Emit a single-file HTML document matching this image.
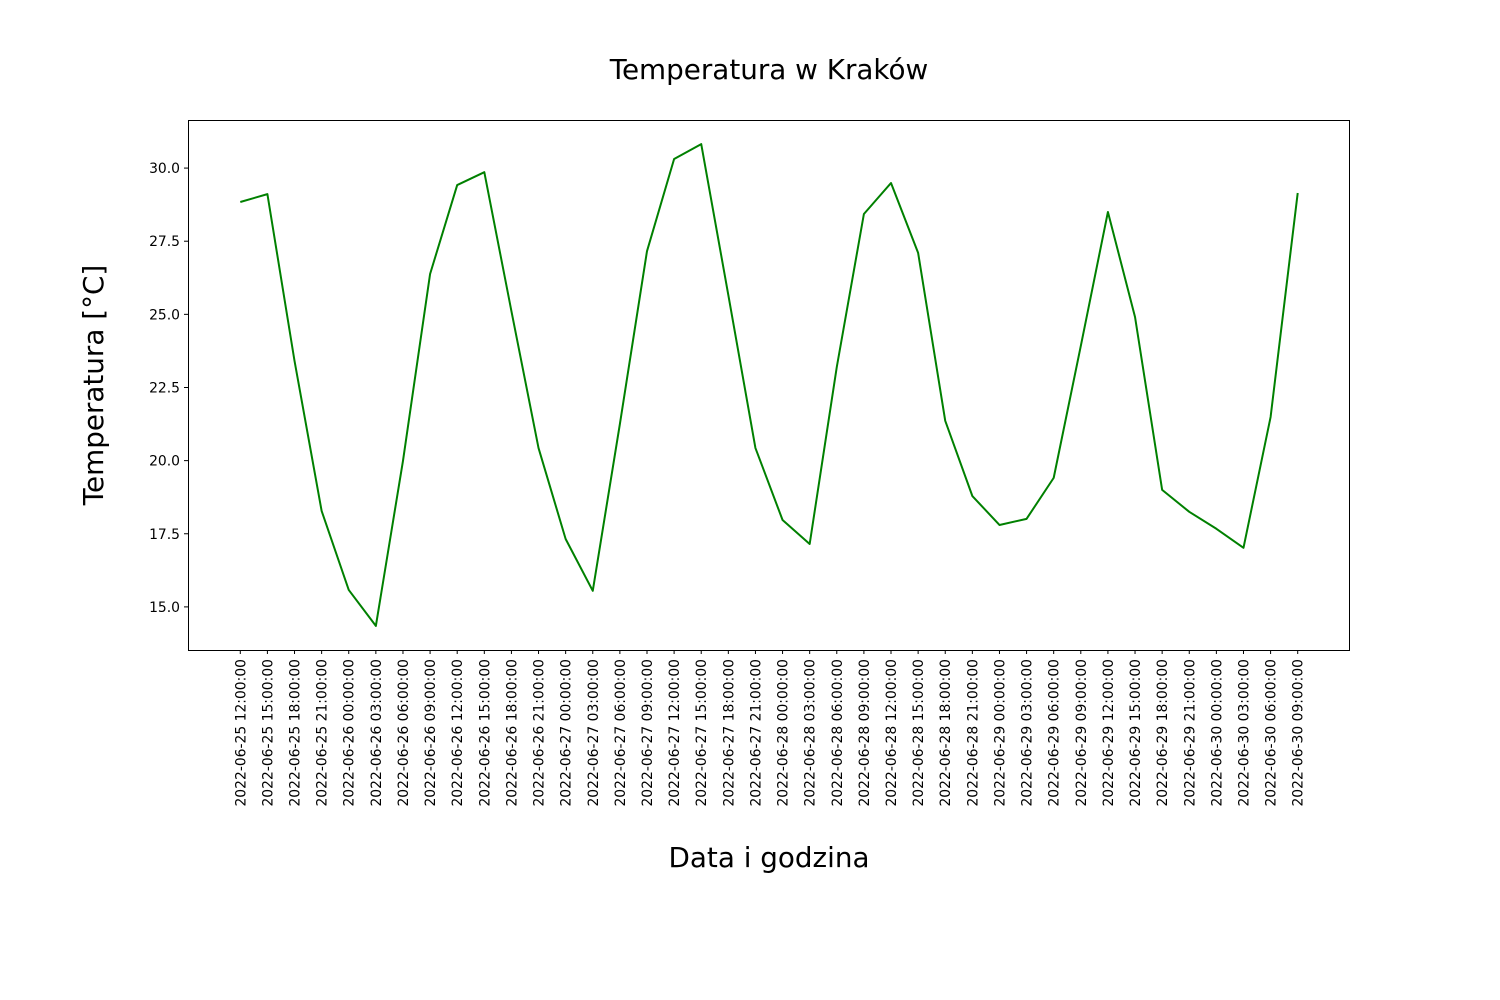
<!DOCTYPE html>
<html><head><meta charset="utf-8"><style>body{margin:0;background:#fff}svg{display:block}</style></head>
<body>
<svg id="chart" width="1500" height="1000" xmlns="http://www.w3.org/2000/svg" font-family="'DejaVu Sans', 'Liberation Sans', sans-serif">
<rect width="1500" height="1000" fill="#fff"/>
<text x="769" y="79" font-size="27.8" text-anchor="middle">Temperatura w Kraków</text>
<text x="769" y="867" font-size="27.8" text-anchor="middle">Data i godzina</text>
<text transform="translate(103,385) rotate(-90)" font-size="27.8" text-anchor="middle">Temperatura [°C]</text>
<g id="plot"></g>
<rect x="188.5" y="120.5" width="1161" height="530" fill="none" stroke="#000" stroke-width="1"/>
</svg>
<script>
const categories = ["2022-06-25 12:00:00","2022-06-25 15:00:00","2022-06-25 18:00:00","2022-06-25 21:00:00","2022-06-26 00:00:00","2022-06-26 03:00:00","2022-06-26 06:00:00","2022-06-26 09:00:00","2022-06-26 12:00:00","2022-06-26 15:00:00","2022-06-26 18:00:00","2022-06-26 21:00:00","2022-06-27 00:00:00","2022-06-27 03:00:00","2022-06-27 06:00:00","2022-06-27 09:00:00","2022-06-27 12:00:00","2022-06-27 15:00:00","2022-06-27 18:00:00","2022-06-27 21:00:00","2022-06-28 00:00:00","2022-06-28 03:00:00","2022-06-28 06:00:00","2022-06-28 09:00:00","2022-06-28 12:00:00","2022-06-28 15:00:00","2022-06-28 18:00:00","2022-06-28 21:00:00","2022-06-29 00:00:00","2022-06-29 03:00:00","2022-06-29 06:00:00","2022-06-29 09:00:00","2022-06-29 12:00:00","2022-06-29 15:00:00","2022-06-29 18:00:00","2022-06-29 21:00:00","2022-06-30 00:00:00","2022-06-30 03:00:00","2022-06-30 06:00:00","2022-06-30 09:00:00"];
const temperatures = [28.84,29.11,23.41,18.28,15.58,14.35,19.99,26.38,29.42,29.86,25.11,20.43,17.32,15.55,21.25,27.16,30.31,30.82,25.66,20.43,17.97,17.15,23.20,28.43,29.49,27.10,21.36,18.79,17.80,18.01,19.41,23.92,28.50,24.91,19.00,18.25,17.67,17.02,21.49,29.15];
const yTicks = [15.0,17.5,20.0,22.5,25.0,27.5,30.0];
const yTickLabels = ["15.0","17.5","20.0","22.5","25.0","27.5","30.0"];

const NS="http://www.w3.org/2000/svg";
const L=188,R=1350,T=120,B=650;
const n=categories.length;
const xStart=L+(R-L)*0.045, xEnd=R-(R-L)*0.045;
const xs=i=>xStart+(xEnd-xStart)*i/(n-1);
const mn=Math.min(...temperatures),mx=Math.max(...temperatures),pad=(mx-mn)*0.05;
const y0=mn-pad,y1=mx+pad;
const ys=v=>B-(v-y0)/(y1-y0)*(B-T);
const g=document.getElementById('plot');
function el(t,a){const e=document.createElementNS(NS,t);for(const k in a)e.setAttribute(k,a[k]);g.appendChild(e);return e;}
yTicks.forEach((v,i)=>{
  const y=ys(v);
  const tk=el('line',{x1:L-4,x2:L,y1:y,y2:y,stroke:'#000'});
  
  
  const t=el('text',{x:L-8,y:y+5,'font-size':13.9,'text-anchor':'end'});
  t.textContent=yTickLabels[i];
  
  
});
categories.forEach((c,i)=>{
  const x=xs(i);
  const tk=el('line',{x1:x,x2:x,y1:B,y2:B+4,stroke:'#000'});
  
  
  const t=el('text',{transform:`translate(${x+5},${B+9}) rotate(-90)`,'font-size':13.9,'text-anchor':'end'});
  t.textContent=c;
  
  
});
const line=el('polyline',{points:temperatures.map((v,i)=>xs(i)+','+ys(v)).join(' '),fill:'none',stroke:'#008000','stroke-width':2,'stroke-linejoin':'round'});


</script>
</body></html>
